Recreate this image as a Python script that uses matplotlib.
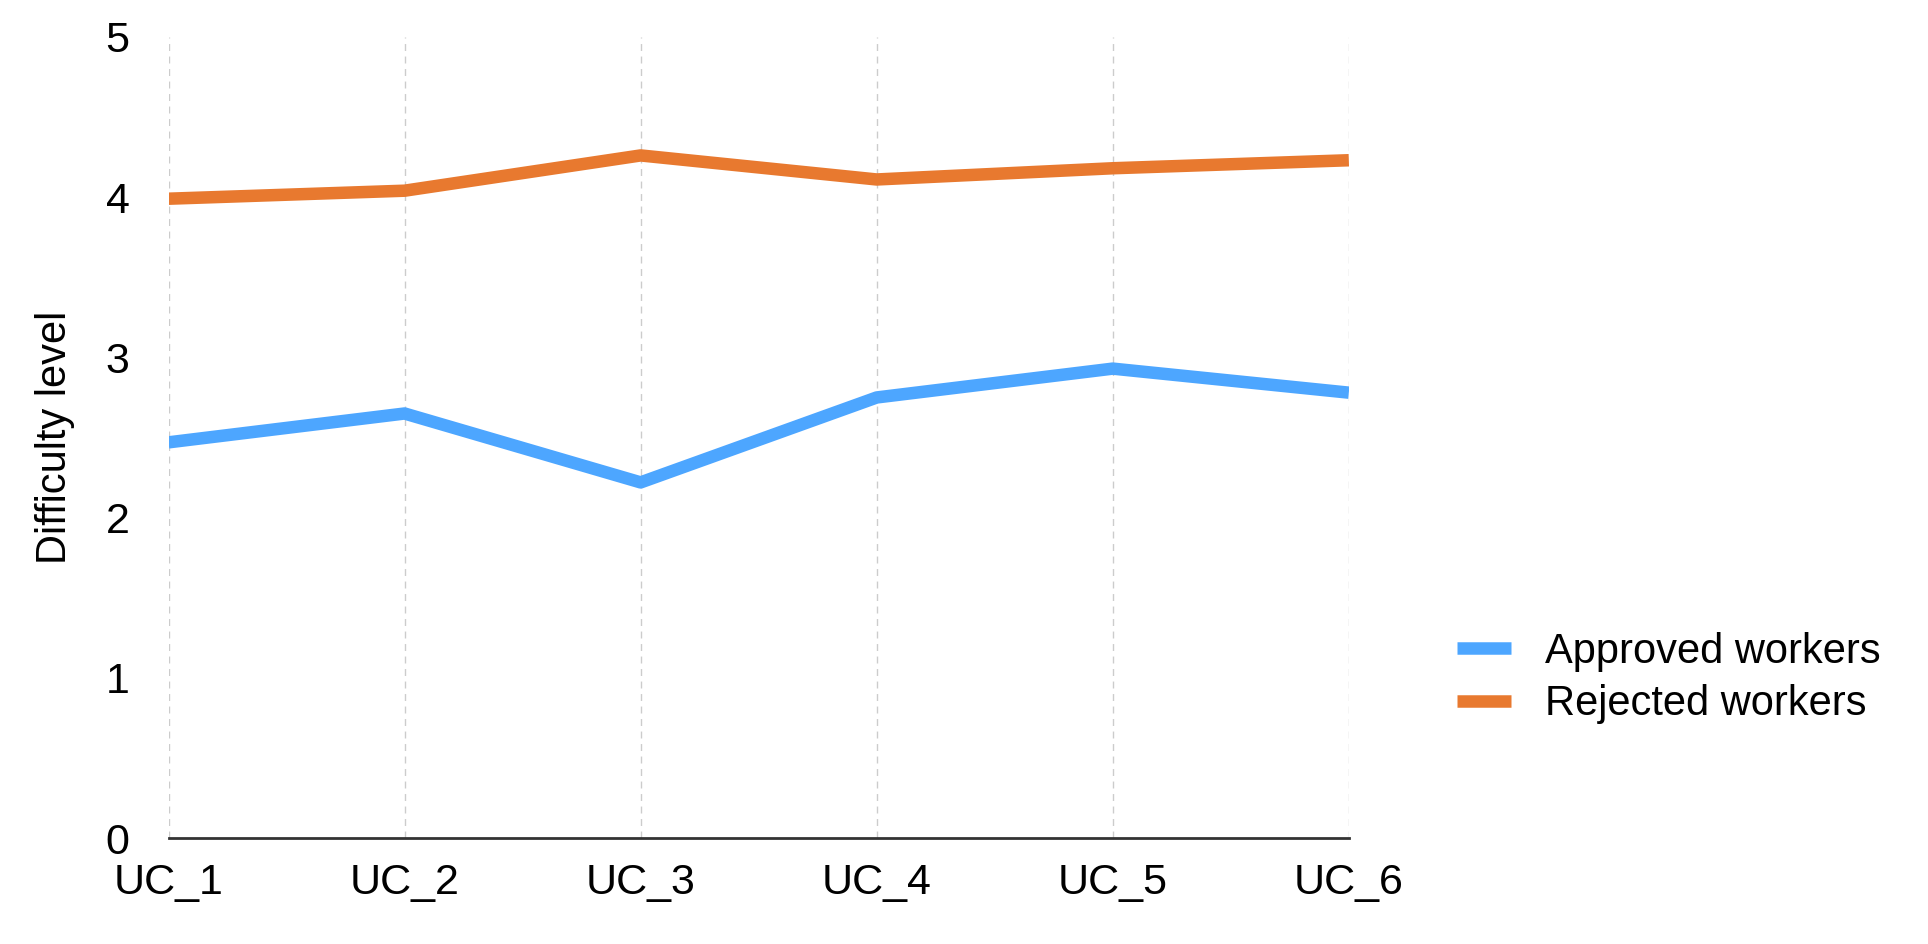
import matplotlib.pyplot as plt

categories = ["UC_1", "UC_2", "UC_3", "UC_4", "UC_5", "UC_6"]
approved = [2.47, 2.65, 2.22, 2.75, 2.93, 2.78]
rejected = [3.99, 4.04, 4.26, 4.11, 4.18, 4.23]

plt.rcParams["font.family"] = ["Liberation Sans", "DejaVu Sans"]
fig = plt.figure(figsize=(19.28, 9.44), dpi=100)
ax = fig.add_axes([0.0874, 0.112, 0.6122, 0.849])

x = range(len(categories))
ax.plot(x, approved, color="#4da6ff", linewidth=9, label="Approved workers", solid_capstyle="butt")
ax.plot(x, rejected, color="#e8792f", linewidth=9, label="Rejected workers", solid_capstyle="butt")

ax.set_xlim(0, len(categories) - 1)
ax.set_ylim(0, 5)
ax.set_yticks(range(6))
ax.set_xticks(list(x))
ax.set_xticklabels(categories)
ax.tick_params(axis="y", length=0, labelsize=31, pad=28)
ax.tick_params(axis="x", length=0, labelsize=31, pad=18)
ax.grid(axis="x", color="#cccccc", linestyle=(0, (5, 4)), linewidth=1)
for s in ["left", "right", "top"]:
    ax.spines[s].set_visible(False)
ax.spines["bottom"].set_color("#333333")
ax.spines["bottom"].set_linewidth(2)
ax.set_ylabel("Difficulty level", fontsize=30, labelpad=22)

ax.legend(loc="center left", bbox_to_anchor=(1.06, 0.2), frameon=False,
          fontsize=30, handlelength=1.3, handletextpad=0.8, labelspacing=0.3)

fig.savefig("out.png", dpi=100)
